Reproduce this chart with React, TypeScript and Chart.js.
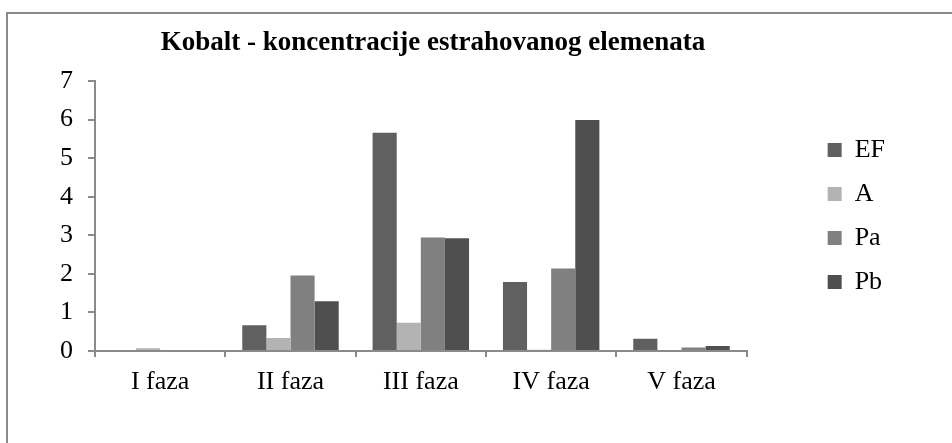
import React, { useEffect, useRef } from "react";
import { Chart, registerables } from "chart.js";

Chart.register(...registerables);

const categories = ["I faza", "II faza", "III faza", "IV faza", "V faza"];
const seriesNames = ["EF", "A", "Pa", "Pb"];
const efValues = [0, 0.67, 5.66, 1.79, 0.32];
const aValues = [0.07, 0.34, 0.73, 0.03, 0];
const paValues = [0, 1.96, 2.94, 2.14, 0.09];
const pbValues = [0, 1.29, 2.92, 5.99, 0.13];
const seriesColors = ["#606060", "#b3b3b3", "#808080", "#4f4f4f"];
const titleText = "Kobalt - koncentracije estrahovanog elemenata";

const FONT = "'Liberation Serif', 'Times New Roman', serif";
const AXIS_COLOR = "#8a8a8a";

export default function App() {
  const canvasRef = useRef<HTMLCanvasElement | null>(null);

  useEffect(() => {
    if (!canvasRef.current) return;
    const values = [efValues, aValues, paValues, pbValues];
    const chart = new Chart(canvasRef.current, {
      type: "bar",
      data: {
        labels: categories,
        datasets: seriesNames.map((name, i) => ({
          label: name,
          data: values[i],
          backgroundColor: seriesColors[i],
          borderWidth: 0,
          categoryPercentage: 0.74,
          barPercentage: 1,
          yAxisID: "y",
        })),
      },
      options: {
        animation: false,
        responsive: false,
        layout: { padding: { top: 17, right: 57, bottom: 0, left: 0 } },
        plugins: {
          title: {
            display: true,
            text: titleText,
            color: "#000",
            font: { family: FONT, size: 27, weight: "bold" },
            padding: { top: 10, bottom: 21.6 },
          },
          legend: {
            display: true,
            position: "right",
            fullSize: false,
            labels: {
              color: "#000",
              font: { family: FONT, size: 26 },
              boxWidth: 14,
              boxHeight: 14,
              padding: 18,
            },
          },
          tooltip: { enabled: false },
        },
        scales: {
          x: {
            grid: {
              display: true,
              drawOnChartArea: false,
              offset: true,
              tickLength: 6,
              color: AXIS_COLOR,
              lineWidth: 2,
            },
            border: { display: true, color: AXIS_COLOR, width: 2 },
            ticks: {
              color: "#000",
              font: { family: FONT, size: 26 },
              padding: 10,
              maxRotation: 0,
            },
            afterFit: (scale: any) => {
              scale.height = 92;
            },
          },
          y: {
            min: 0,
            max: 7,
            grid: {
              display: true,
              drawOnChartArea: false,
              tickLength: 7,
              color: AXIS_COLOR,
              lineWidth: 2,
            },
            border: { display: true, color: AXIS_COLOR, width: 2 },
            ticks: {
              stepSize: 1,
              color: "#000",
              font: { family: FONT, size: 26 },
              padding: 15,
            },
            afterFit: (scale: any) => {
              scale.width = 124;
            },
          },
          spacer: {
            type: "linear",
            position: "right",
            display: true,
            grid: { display: false },
            border: { display: false },
            ticks: { display: false },
            afterFit: (scale: any) => {
              scale.width = 63;
            },
          },
        },
      },
    } as any);
    return () => chart.destroy();
  }, []);

  return (
    <div
      style={{
        position: "fixed",
        left: 0,
        top: 0,
        width: 952,
        height: 443,
        overflow: "hidden",
        background: "#fff",
      }}
    >
      <div
        style={{
          position: "absolute",
          left: 6,
          top: 12,
          right: -10,
          bottom: -10,
          borderLeft: "2px solid #8a8a8a",
          borderTop: "2px solid #8a8a8a",
        }}
      />
      <canvas
        ref={canvasRef}
        width={981}
        height={443}
        style={{ position: "absolute", left: -29, top: 0, width: 981, height: 443 }}
      />
    </div>
  );
}
